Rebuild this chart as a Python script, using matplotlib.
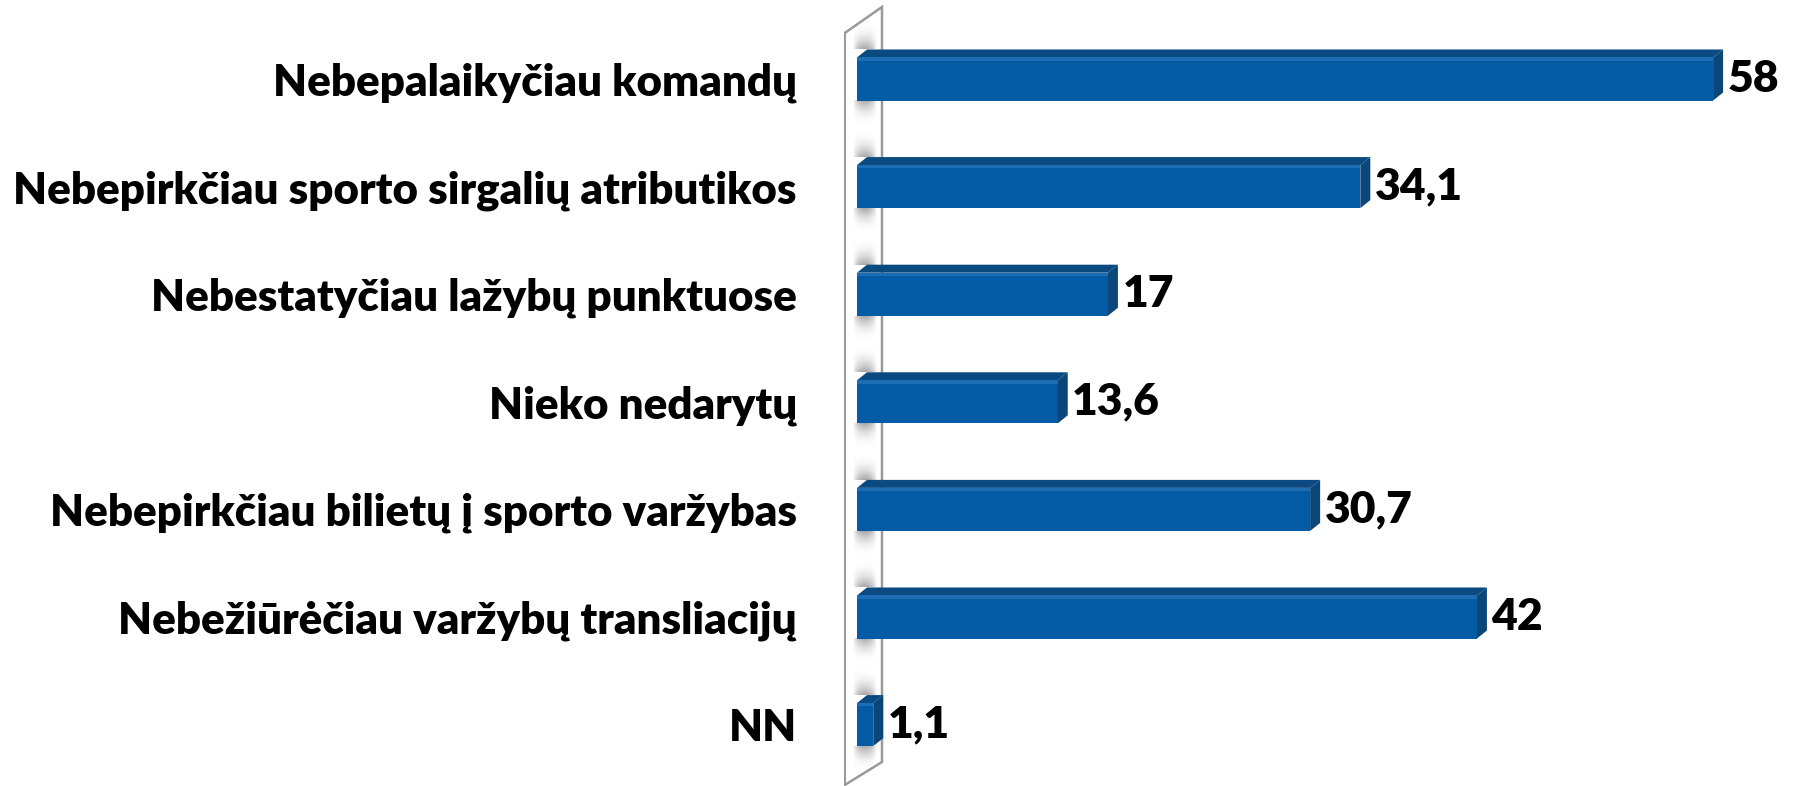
import numpy as np
import matplotlib.pyplot as plt
from matplotlib.patches import Polygon, Rectangle

plt.rcParams['font.family'] = ['Lato', 'DejaVu Sans']

categories = ["Nebepalaikyčiau komandų",
              "Nebepirkčiau sporto sirgalių atributikos",
              "Nebestatyčiau lažybų punktuose",
              "Nieko nedarytų",
              "Nebepirkčiau bilietų į sporto varžybas",
              "Nebežiūrėčiau varžybų transliacijų",
              "NN"]
values = [58, 34.1, 17, 13.6, 30.7, 42, 1.1]
value_labels = ["58", "34,1", "17", "13,6", "30,7", "42", "1,1"]

front = "#045BA5"
top_c = "#0B4A80"
side_c = "#0A4678"
hi_c = "#1D6DB5"
fs = 31.6
fw = "heavy"

W, H = 1793, 786
fig = plt.figure(figsize=(W / 100, H / 100), dpi=100)
ax = fig.add_axes([844 / W, 0, (W - 844) / W, 1])

pxu = 14.76      # pixels per unit on x
pyu = 107.6      # pixels per category
x0 = -(857 - 844) / pxu
x1 = (W - 857) / pxu
y_top = -79 / pyu
y_bot = (H - 79) / pyu

pos = np.arange(len(values))
h = 0.40
dx = 10 / pxu
dy = 8 / pyu

# side wall
wl, wr = x0 + 0.05, (882 - 857) / pxu
wall = Polygon([(wl, -46 / pyu), (wr, -72 / pyu), (wr, (762 - 79) / pyu),
                (wl, (785 - 79) / pyu)], closed=True, facecolor="white",
               edgecolor="#9A9A9A", lw=1.8, zorder=1)
ax.add_patch(wall)

# soft shadows on the wall
ramp = np.linspace(0, 1, 60)
across = np.sin(np.linspace(0, np.pi, 30)) ** 0.7
for y in pos:
    for sgn in (-1, 1):
        img = np.zeros((60, 30, 4))
        img[..., :3] = 0.42
        a = ramp if sgn == -1 else ramp[::-1]
        img[..., 3] = 0.6 * (a[:, None] ** 2.2) * across[None, :]
        if sgn == -1:
            ext = (-0.3, 1.3, y - h / 2 - dy, y - h / 2 - dy - 0.26)
        else:
            ext = (-0.3, 1.3, y + h / 2 + 0.24, y + h / 2)
        ax.imshow(img, extent=ext, aspect="auto", zorder=2, interpolation="bilinear")

ax.barh(pos, values, height=h, color=front, zorder=3)
for y, v, lab in zip(pos, values, value_labels):
    yt = y - h / 2
    ax.add_patch(Polygon([(0, yt), (v, yt), (v + dx, yt - dy), (dx, yt - dy)],
                         closed=True, facecolor=top_c, edgecolor="none", zorder=4))
    ax.add_patch(Polygon([(v, yt), (v + dx, yt - dy), (v + dx, y + h / 2 - dy), (v, y + h / 2)],
                         closed=True, facecolor=side_c, edgecolor="none", zorder=4))
    ax.add_patch(Rectangle((0, yt), v, 0.03, facecolor=hi_c, edgecolor="none", zorder=4))
    ax.text(v + dx + 0.3, y, lab, ha="left", va="center", fontsize=32,
            fontweight=fw, color="black", zorder=5)

ax.set_xlim(x0, x1)
ax.set_ylim(y_bot, y_top)
ax.set_yticks(pos)
ax.set_yticklabels(categories, fontsize=fs, fontweight=fw)
ax.tick_params(axis="y", length=0, pad=34)
ax.set_xticks([])
for s in ax.spines.values():
    s.set_visible(False)
ax.patch.set_alpha(0)

fig.savefig("out.png", dpi=100)
